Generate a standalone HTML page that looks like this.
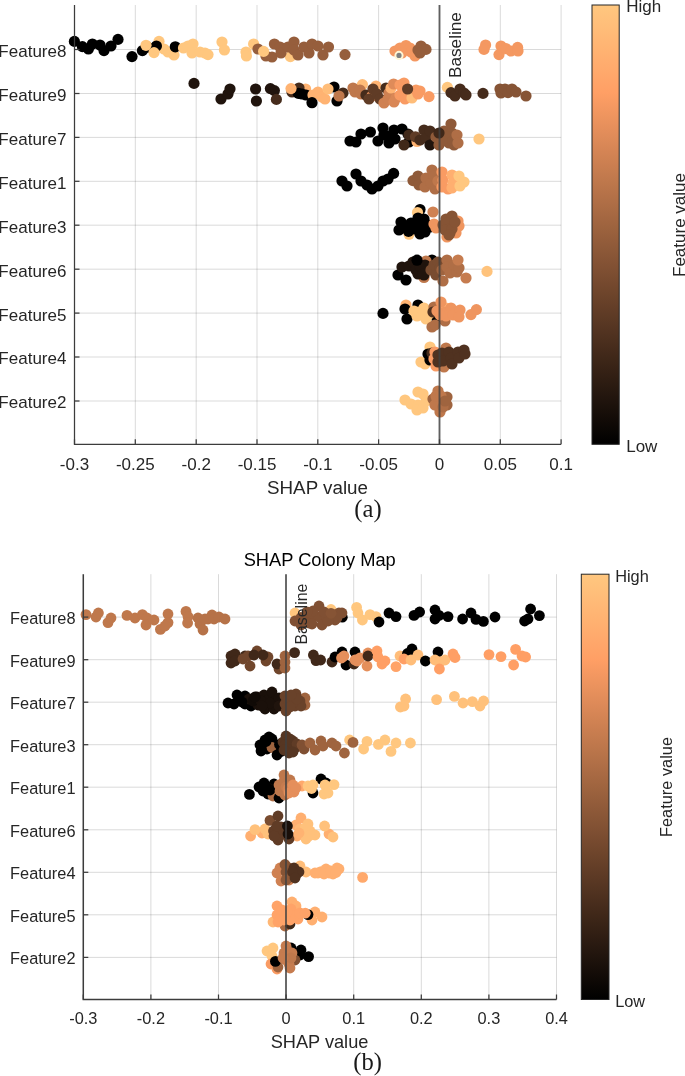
<!DOCTYPE html>
<html><head><meta charset="utf-8"><title>SHAP Colony Map</title>
<style>html,body{margin:0;padding:0;background:#fff}svg{display:block}text{font-family:"Liberation Sans",Arial,sans-serif;fill:#262626}.s{font-family:"Liberation Serif","Times New Roman",serif;fill:#1a1a1a}.g{stroke:#262626;stroke-opacity:.17;stroke-width:1}.ax{stroke:#3c3c3c;stroke-width:1.25;fill:none}</style></head><body>
<svg width="685" height="1076" viewBox="0 0 685 1076">
<defs><linearGradient id="cu" x1="0" y1="1" x2="0" y2="0">
<stop offset="0" stop-color="#000000"/>
<stop offset="0.05" stop-color="#100a06"/>
<stop offset="0.1" stop-color="#20140d"/>
<stop offset="0.15" stop-color="#301e13"/>
<stop offset="0.2" stop-color="#402819"/>
<stop offset="0.25" stop-color="#503220"/>
<stop offset="0.3" stop-color="#603c26"/>
<stop offset="0.35" stop-color="#70462c"/>
<stop offset="0.4" stop-color="#805033"/>
<stop offset="0.45" stop-color="#8f5a39"/>
<stop offset="0.5" stop-color="#9f643f"/>
<stop offset="0.55" stop-color="#af6e46"/>
<stop offset="0.6" stop-color="#bf784c"/>
<stop offset="0.65" stop-color="#cf8152"/>
<stop offset="0.7" stop-color="#df8b59"/>
<stop offset="0.75" stop-color="#ef955f"/>
<stop offset="0.8" stop-color="#ff9f65"/>
<stop offset="0.85" stop-color="#ffa96c"/>
<stop offset="0.9" stop-color="#ffb372"/>
<stop offset="0.95" stop-color="#ffbd79"/>
<stop offset="1" stop-color="#ffc77f"/>
</linearGradient></defs>
<rect width="685" height="1076" fill="#fff"/>
<line class="g" x1="74.5" y1="5.0" x2="74.5" y2="444.3"/>
<line class="g" x1="135.3" y1="5.0" x2="135.3" y2="444.3"/>
<line class="g" x1="196.2" y1="5.0" x2="196.2" y2="444.3"/>
<line class="g" x1="257.0" y1="5.0" x2="257.0" y2="444.3"/>
<line class="g" x1="317.8" y1="5.0" x2="317.8" y2="444.3"/>
<line class="g" x1="378.6" y1="5.0" x2="378.6" y2="444.3"/>
<line class="g" x1="439.5" y1="5.0" x2="439.5" y2="444.3"/>
<line class="g" x1="500.3" y1="5.0" x2="500.3" y2="444.3"/>
<line class="g" x1="561.1" y1="5.0" x2="561.1" y2="444.3"/>
<line class="g" x1="74.5" y1="49.5" x2="561.1" y2="49.5"/>
<line class="g" x1="74.5" y1="93.5" x2="561.1" y2="93.5"/>
<line class="g" x1="74.5" y1="137.4" x2="561.1" y2="137.4"/>
<line class="g" x1="74.5" y1="181.3" x2="561.1" y2="181.3"/>
<line class="g" x1="74.5" y1="225.2" x2="561.1" y2="225.2"/>
<line class="g" x1="74.5" y1="269.2" x2="561.1" y2="269.2"/>
<line class="g" x1="74.5" y1="313.1" x2="561.1" y2="313.1"/>
<line class="g" x1="74.5" y1="357.0" x2="561.1" y2="357.0"/>
<line class="g" x1="74.5" y1="401.0" x2="561.1" y2="401.0"/>
<g>
<circle cx="74.4" cy="41.4" r="5.60" fill="#000000"/>
<circle cx="82.4" cy="46.6" r="5.60" fill="#000000"/>
<circle cx="88.4" cy="49.0" r="5.60" fill="#000000"/>
<circle cx="92.4" cy="44.0" r="5.60" fill="#000000"/>
<circle cx="100.0" cy="45.0" r="5.60" fill="#000000"/>
<circle cx="104.0" cy="50.6" r="5.60" fill="#000000"/>
<circle cx="111.0" cy="46.0" r="5.60" fill="#000000"/>
<circle cx="118.0" cy="39.4" r="5.60" fill="#000000"/>
<circle cx="132.0" cy="56.6" r="5.60" fill="#000000"/>
<circle cx="142.4" cy="50.6" r="5.60" fill="#000000"/>
<circle cx="159.0" cy="41.4" r="5.60" fill="#ffc77f"/>
<circle cx="164.0" cy="49.0" r="5.60" fill="#ffc77f"/>
<circle cx="168.0" cy="52.0" r="5.60" fill="#ffc77f"/>
<circle cx="174.0" cy="55.0" r="5.60" fill="#ffc77f"/>
<circle cx="147.5" cy="47.2" r="5.60" fill="#000000"/>
<circle cx="156.4" cy="46.0" r="5.60" fill="#000000"/>
<circle cx="175.3" cy="46.8" r="5.60" fill="#000000"/>
<circle cx="154.0" cy="52.6" r="5.60" fill="#ffc77f"/>
<circle cx="183.5" cy="48.0" r="5.60" fill="#ffc77f"/>
<circle cx="188.0" cy="46.0" r="5.60" fill="#ffc77f"/>
<circle cx="193.0" cy="44.0" r="5.60" fill="#ffc77f"/>
<circle cx="192.0" cy="53.0" r="5.60" fill="#ffc77f"/>
<circle cx="200.0" cy="52.0" r="5.60" fill="#ffc77f"/>
<circle cx="205.0" cy="53.0" r="5.60" fill="#ffc77f"/>
<circle cx="208.0" cy="54.6" r="5.60" fill="#ffc77f"/>
<circle cx="146.0" cy="45.3" r="5.60" fill="#ffc77f"/>
<circle cx="222.0" cy="42.0" r="5.60" fill="#ffc77f"/>
<circle cx="224.4" cy="50.0" r="5.60" fill="#ffc77f"/>
<circle cx="246.0" cy="52.0" r="5.60" fill="#ffc77f"/>
<circle cx="246.4" cy="56.0" r="5.60" fill="#ffc77f"/>
<circle cx="253.6" cy="44.0" r="5.60" fill="#ffc77f"/>
<circle cx="258.0" cy="49.0" r="5.60" fill="#965e3c"/>
<circle cx="290.4" cy="56.6" r="5.60" fill="#ffc77f"/>
<circle cx="266.0" cy="56.0" r="5.60" fill="#965e3c"/>
<circle cx="272.0" cy="57.0" r="5.60" fill="#965e3c"/>
<circle cx="274.4" cy="44.0" r="5.60" fill="#965e3c"/>
<circle cx="280.0" cy="47.0" r="5.60" fill="#965e3c"/>
<circle cx="281.0" cy="53.0" r="5.60" fill="#965e3c"/>
<circle cx="288.0" cy="47.0" r="5.60" fill="#965e3c"/>
<circle cx="294.0" cy="42.0" r="5.60" fill="#965e3c"/>
<circle cx="294.0" cy="50.0" r="5.60" fill="#965e3c"/>
<circle cx="298.0" cy="55.0" r="5.60" fill="#965e3c"/>
<circle cx="304.0" cy="47.0" r="5.60" fill="#965e3c"/>
<circle cx="309.0" cy="53.0" r="5.60" fill="#965e3c"/>
<circle cx="312.0" cy="44.0" r="5.60" fill="#965e3c"/>
<circle cx="318.0" cy="46.0" r="5.60" fill="#965e3c"/>
<circle cx="323.0" cy="55.0" r="5.60" fill="#965e3c"/>
<circle cx="328.5" cy="47.0" r="5.60" fill="#965e3c"/>
<circle cx="263.6" cy="51.4" r="5.60" fill="#ffc77f"/>
<circle cx="345.0" cy="54.6" r="5.60" fill="#965e3c"/>
<circle cx="395.0" cy="51.0" r="5.60" fill="#f49861"/>
<circle cx="400.0" cy="48.0" r="5.60" fill="#f49861"/>
<circle cx="406.0" cy="45.5" r="5.60" fill="#f49861"/>
<circle cx="410.0" cy="48.0" r="5.60" fill="#f49861"/>
<circle cx="415.0" cy="56.0" r="5.60" fill="#f49861"/>
<circle cx="411.0" cy="52.0" r="5.60" fill="#f49861"/>
<circle cx="402.0" cy="53.0" r="5.60" fill="#f49861"/>
<circle cx="399.0" cy="55.4" r="3.60" fill="#808080" stroke="#fff6d5" stroke-width="2.0"/>
<circle cx="418.0" cy="50.0" r="5.60" fill="#965e3c"/>
<circle cx="421.0" cy="46.0" r="5.60" fill="#965e3c"/>
<circle cx="426.0" cy="49.4" r="5.60" fill="#965e3c"/>
<circle cx="420.0" cy="53.0" r="5.60" fill="#965e3c"/>
<circle cx="485.6" cy="45.0" r="5.60" fill="#f49861"/>
<circle cx="484.0" cy="49.4" r="5.60" fill="#f49861"/>
<circle cx="501.0" cy="46.0" r="5.60" fill="#f49861"/>
<circle cx="499.0" cy="54.6" r="5.60" fill="#f49861"/>
<circle cx="506.0" cy="48.6" r="5.60" fill="#f49861"/>
<circle cx="511.0" cy="51.0" r="5.60" fill="#f49861"/>
<circle cx="517.6" cy="47.4" r="5.60" fill="#f49861"/>
<circle cx="518.0" cy="51.0" r="5.60" fill="#f49861"/>
<circle cx="194.0" cy="83.4" r="5.60" fill="#20140d"/>
<circle cx="221.0" cy="99.0" r="5.60" fill="#20140d"/>
<circle cx="228.0" cy="94.0" r="5.60" fill="#20140d"/>
<circle cx="230.0" cy="89.0" r="5.60" fill="#20140d"/>
<circle cx="255.6" cy="89.0" r="5.60" fill="#20140d"/>
<circle cx="256.4" cy="101.0" r="5.60" fill="#20140d"/>
<circle cx="270.4" cy="88.6" r="5.60" fill="#20140d"/>
<circle cx="274.4" cy="90.6" r="5.60" fill="#20140d"/>
<circle cx="276.4" cy="99.4" r="5.60" fill="#462c1c"/>
<circle cx="305.6" cy="89.0" r="5.60" fill="#ffb372"/>
<circle cx="292.0" cy="92.0" r="5.60" fill="#462c1c"/>
<circle cx="299.0" cy="88.0" r="5.60" fill="#462c1c"/>
<circle cx="298.4" cy="93.4" r="5.60" fill="#000000"/>
<circle cx="291.0" cy="88.6" r="5.60" fill="#ffb372"/>
<circle cx="302.0" cy="94.0" r="5.60" fill="#000000"/>
<circle cx="306.0" cy="95.0" r="5.60" fill="#000000"/>
<circle cx="313.0" cy="95.0" r="5.60" fill="#ffb372"/>
<circle cx="318.0" cy="92.0" r="5.60" fill="#ffb372"/>
<circle cx="322.0" cy="97.0" r="5.60" fill="#ffb372"/>
<circle cx="325.0" cy="99.0" r="5.60" fill="#ffb372"/>
<circle cx="312.0" cy="102.7" r="5.60" fill="#000000"/>
<circle cx="334.0" cy="87.0" r="5.60" fill="#000000"/>
<circle cx="328.0" cy="89.0" r="5.60" fill="#ffbd79"/>
<circle cx="337.0" cy="101.0" r="5.60" fill="#000000"/>
<circle cx="343.0" cy="93.0" r="5.60" fill="#462c1c"/>
<circle cx="339.0" cy="96.0" r="5.60" fill="#bf784c"/>
<circle cx="362.4" cy="84.6" r="5.60" fill="#ffbd79"/>
<circle cx="353.0" cy="88.0" r="5.60" fill="#bf784c"/>
<circle cx="355.0" cy="92.0" r="5.60" fill="#bf784c"/>
<circle cx="360.0" cy="90.0" r="5.60" fill="#bf784c"/>
<circle cx="361.0" cy="94.0" r="5.60" fill="#bf784c"/>
<circle cx="366.0" cy="95.0" r="5.60" fill="#462c1c"/>
<circle cx="376.0" cy="86.0" r="5.60" fill="#ffb372"/>
<circle cx="372.0" cy="96.0" r="5.60" fill="#f49861"/>
<circle cx="369.0" cy="99.0" r="5.60" fill="#603c26"/>
<circle cx="373.0" cy="89.0" r="5.60" fill="#603c26"/>
<circle cx="377.0" cy="94.0" r="5.60" fill="#603c26"/>
<circle cx="380.0" cy="99.0" r="5.60" fill="#603c26"/>
<circle cx="386.0" cy="88.0" r="5.60" fill="#462c1c"/>
<circle cx="384.0" cy="103.0" r="5.60" fill="#cf8152"/>
<circle cx="388.0" cy="99.0" r="5.60" fill="#cf8152"/>
<circle cx="389.0" cy="93.0" r="5.60" fill="#cf8152"/>
<circle cx="391.0" cy="88.0" r="5.60" fill="#ffb372"/>
<circle cx="393.6" cy="84.0" r="5.60" fill="#df8b59"/>
<circle cx="396.0" cy="98.0" r="5.60" fill="#d98756"/>
<circle cx="394.0" cy="102.0" r="5.60" fill="#d98756"/>
<circle cx="400.0" cy="85.0" r="5.60" fill="#f99b63"/>
<circle cx="404.0" cy="83.0" r="5.60" fill="#f99b63"/>
<circle cx="400.0" cy="95.0" r="5.60" fill="#f99b63"/>
<circle cx="405.0" cy="99.0" r="5.60" fill="#f99b63"/>
<circle cx="412.0" cy="98.0" r="5.60" fill="#ffbd79"/>
<circle cx="416.0" cy="90.0" r="5.60" fill="#f99b63"/>
<circle cx="420.0" cy="91.0" r="5.60" fill="#f99b63"/>
<circle cx="418.0" cy="94.0" r="5.60" fill="#f99b63"/>
<circle cx="407.6" cy="89.0" r="5.60" fill="#603c26"/>
<circle cx="429.0" cy="96.6" r="5.60" fill="#f99b63"/>
<circle cx="447.4" cy="87.4" r="5.60" fill="#ffc77f"/>
<circle cx="451.0" cy="92.6" r="5.60" fill="#462c1c"/>
<circle cx="455.0" cy="96.0" r="5.60" fill="#462c1c"/>
<circle cx="460.0" cy="89.0" r="5.60" fill="#462c1c"/>
<circle cx="464.0" cy="93.0" r="5.60" fill="#462c1c"/>
<circle cx="466.0" cy="95.0" r="5.60" fill="#462c1c"/>
<circle cx="483.0" cy="93.4" r="5.60" fill="#462c1c"/>
<circle cx="500.0" cy="89.0" r="5.60" fill="#865435"/>
<circle cx="501.0" cy="93.0" r="5.60" fill="#865435"/>
<circle cx="505.0" cy="89.0" r="5.60" fill="#865435"/>
<circle cx="508.0" cy="92.6" r="5.60" fill="#865435"/>
<circle cx="512.0" cy="89.0" r="5.60" fill="#865435"/>
<circle cx="516.0" cy="92.0" r="5.60" fill="#865435"/>
<circle cx="526.0" cy="96.0" r="5.60" fill="#865435"/>
<circle cx="350.0" cy="141.0" r="5.60" fill="#000000"/>
<circle cx="356.0" cy="142.0" r="5.60" fill="#000000"/>
<circle cx="361.0" cy="134.0" r="5.60" fill="#000000"/>
<circle cx="370.4" cy="132.0" r="5.60" fill="#000000"/>
<circle cx="378.0" cy="141.0" r="5.60" fill="#000000"/>
<circle cx="383.0" cy="128.0" r="5.60" fill="#000000"/>
<circle cx="384.0" cy="135.0" r="5.60" fill="#000000"/>
<circle cx="389.0" cy="143.0" r="5.60" fill="#000000"/>
<circle cx="394.0" cy="130.0" r="5.60" fill="#000000"/>
<circle cx="395.0" cy="139.0" r="5.60" fill="#000000"/>
<circle cx="402.0" cy="129.0" r="5.60" fill="#000000"/>
<circle cx="408.0" cy="134.0" r="5.60" fill="#000000"/>
<circle cx="409.0" cy="142.0" r="5.60" fill="#000000"/>
<circle cx="417.0" cy="141.5" r="5.60" fill="#ffb372"/>
<circle cx="409.0" cy="135.0" r="5.60" fill="#402819"/>
<circle cx="404.0" cy="145.0" r="5.60" fill="#402819"/>
<circle cx="415.5" cy="136.8" r="5.60" fill="#603c26"/>
<circle cx="420.0" cy="140.0" r="5.60" fill="#462c1c"/>
<circle cx="389.0" cy="136.0" r="5.60" fill="#000000"/>
<circle cx="424.0" cy="130.0" r="5.60" fill="#462c1c"/>
<circle cx="426.0" cy="138.0" r="5.60" fill="#462c1c"/>
<circle cx="430.0" cy="131.0" r="5.60" fill="#462c1c"/>
<circle cx="430.0" cy="145.0" r="5.60" fill="#20140d"/>
<circle cx="436.0" cy="137.0" r="5.60" fill="#8f5a39"/>
<circle cx="439.0" cy="145.0" r="5.60" fill="#8f5a39"/>
<circle cx="444.0" cy="131.0" r="5.60" fill="#8f5a39"/>
<circle cx="446.0" cy="139.0" r="5.60" fill="#8f5a39"/>
<circle cx="451.0" cy="124.0" r="5.60" fill="#8f5a39"/>
<circle cx="452.0" cy="133.0" r="5.60" fill="#8f5a39"/>
<circle cx="454.0" cy="145.0" r="5.60" fill="#8f5a39"/>
<circle cx="448.0" cy="137.0" r="5.60" fill="#8f5a39"/>
<circle cx="455.0" cy="139.0" r="5.60" fill="#8f5a39"/>
<circle cx="449.0" cy="143.0" r="5.60" fill="#8f5a39"/>
<circle cx="442.0" cy="141.0" r="5.60" fill="#8f5a39"/>
<circle cx="457.0" cy="135.0" r="5.60" fill="#af6e46"/>
<circle cx="458.0" cy="143.0" r="5.60" fill="#af6e46"/>
<circle cx="439.0" cy="133.0" r="5.60" fill="#402819"/>
<circle cx="479.0" cy="139.0" r="5.60" fill="#ffc77f"/>
<circle cx="342.0" cy="181.0" r="5.60" fill="#000000"/>
<circle cx="347.0" cy="186.0" r="5.60" fill="#000000"/>
<circle cx="356.0" cy="174.0" r="5.60" fill="#000000"/>
<circle cx="361.0" cy="181.0" r="5.60" fill="#000000"/>
<circle cx="367.0" cy="185.0" r="5.60" fill="#000000"/>
<circle cx="372.0" cy="189.0" r="5.60" fill="#000000"/>
<circle cx="378.0" cy="186.0" r="5.60" fill="#000000"/>
<circle cx="383.0" cy="181.0" r="5.60" fill="#000000"/>
<circle cx="388.0" cy="179.0" r="5.60" fill="#000000"/>
<circle cx="393.6" cy="173.4" r="5.60" fill="#000000"/>
<circle cx="413.0" cy="180.6" r="5.60" fill="#8f5a39"/>
<circle cx="418.0" cy="176.0" r="5.60" fill="#8f5a39"/>
<circle cx="419.0" cy="185.0" r="5.60" fill="#8f5a39"/>
<circle cx="426.0" cy="178.0" r="5.60" fill="#af6e46"/>
<circle cx="425.0" cy="187.0" r="5.60" fill="#af6e46"/>
<circle cx="432.0" cy="170.0" r="5.60" fill="#af6e46"/>
<circle cx="431.0" cy="183.0" r="5.60" fill="#af6e46"/>
<circle cx="435.0" cy="189.0" r="5.60" fill="#af6e46"/>
<circle cx="434.0" cy="176.0" r="5.60" fill="#af6e46"/>
<circle cx="438.0" cy="181.0" r="5.60" fill="#bf784c"/>
<circle cx="442.0" cy="172.0" r="5.60" fill="#f99b63"/>
<circle cx="443.0" cy="180.0" r="5.60" fill="#f99b63"/>
<circle cx="442.0" cy="187.0" r="5.60" fill="#f99b63"/>
<circle cx="448.0" cy="189.0" r="5.60" fill="#f99b63"/>
<circle cx="452.0" cy="175.0" r="5.60" fill="#ffaf70"/>
<circle cx="453.0" cy="183.0" r="5.60" fill="#ffaf70"/>
<circle cx="452.0" cy="188.0" r="5.60" fill="#ffaf70"/>
<circle cx="459.0" cy="176.0" r="5.60" fill="#ffc77f"/>
<circle cx="460.0" cy="186.0" r="5.60" fill="#ffc77f"/>
<circle cx="464.0" cy="182.0" r="5.60" fill="#ffc77f"/>
<circle cx="420.0" cy="209.5" r="5.60" fill="#000000"/>
<circle cx="417.5" cy="212.5" r="5.60" fill="#ffc77f"/>
<circle cx="409.0" cy="234.2" r="5.60" fill="#ffc77f"/>
<circle cx="408.5" cy="231.3" r="5.60" fill="#000000"/>
<circle cx="404.0" cy="226.0" r="5.60" fill="#000000"/>
<circle cx="413.0" cy="229.0" r="5.60" fill="#000000"/>
<circle cx="422.0" cy="229.0" r="5.60" fill="#000000"/>
<circle cx="418.0" cy="218.0" r="5.60" fill="#000000"/>
<circle cx="401.0" cy="222.0" r="5.60" fill="#000000"/>
<circle cx="399.0" cy="230.0" r="5.60" fill="#000000"/>
<circle cx="407.0" cy="229.0" r="5.60" fill="#000000"/>
<circle cx="411.0" cy="223.0" r="5.60" fill="#000000"/>
<circle cx="418.0" cy="227.0" r="5.60" fill="#000000"/>
<circle cx="420.0" cy="234.0" r="5.60" fill="#000000"/>
<circle cx="425.0" cy="232.0" r="5.60" fill="#000000"/>
<circle cx="426.0" cy="224.0" r="5.60" fill="#000000"/>
<circle cx="424.0" cy="219.0" r="5.60" fill="#000000"/>
<circle cx="430.0" cy="227.0" r="5.60" fill="#000000"/>
<circle cx="433.0" cy="212.0" r="5.60" fill="#cf8152"/>
<circle cx="434.0" cy="224.0" r="5.60" fill="#ef955f"/>
<circle cx="436.0" cy="228.0" r="5.60" fill="#ef955f"/>
<circle cx="458.0" cy="221.0" r="5.60" fill="#ef955f"/>
<circle cx="459.0" cy="226.0" r="5.60" fill="#ef955f"/>
<circle cx="456.0" cy="233.0" r="5.60" fill="#ef955f"/>
<circle cx="447.0" cy="237.0" r="5.60" fill="#ef955f"/>
<circle cx="446.0" cy="219.0" r="5.60" fill="#865435"/>
<circle cx="448.0" cy="227.0" r="5.60" fill="#865435"/>
<circle cx="452.0" cy="216.0" r="5.60" fill="#865435"/>
<circle cx="453.0" cy="223.0" r="5.60" fill="#865435"/>
<circle cx="450.0" cy="233.0" r="5.60" fill="#865435"/>
<circle cx="443.0" cy="225.0" r="5.60" fill="#865435"/>
<circle cx="447.0" cy="223.0" r="5.60" fill="#865435"/>
<circle cx="449.0" cy="229.0" r="5.60" fill="#865435"/>
<circle cx="445.0" cy="230.0" r="5.60" fill="#865435"/>
<circle cx="452.0" cy="229.0" r="5.60" fill="#865435"/>
<circle cx="455.0" cy="222.0" r="5.60" fill="#865435"/>
<circle cx="449.0" cy="235.0" r="5.60" fill="#865435"/>
<circle cx="398.0" cy="275.0" r="5.60" fill="#000000"/>
<circle cx="406.0" cy="280.0" r="5.60" fill="#000000"/>
<circle cx="432.0" cy="260.0" r="5.60" fill="#000000"/>
<circle cx="426.0" cy="261.0" r="5.60" fill="#bf784c"/>
<circle cx="424.0" cy="277.5" r="5.60" fill="#bf784c"/>
<circle cx="402.0" cy="267.0" r="5.60" fill="#20140d"/>
<circle cx="409.0" cy="266.0" r="5.60" fill="#20140d"/>
<circle cx="413.0" cy="262.0" r="5.60" fill="#20140d"/>
<circle cx="416.0" cy="270.0" r="5.60" fill="#20140d"/>
<circle cx="418.0" cy="274.0" r="5.60" fill="#20140d"/>
<circle cx="423.0" cy="269.0" r="5.60" fill="#20140d"/>
<circle cx="424.0" cy="275.0" r="5.60" fill="#20140d"/>
<circle cx="425.0" cy="265.0" r="5.60" fill="#20140d"/>
<circle cx="420.0" cy="266.0" r="5.60" fill="#20140d"/>
<circle cx="423.0" cy="274.0" r="5.60" fill="#20140d"/>
<circle cx="417.0" cy="260.2" r="5.60" fill="#000000"/>
<circle cx="431.0" cy="270.0" r="5.60" fill="#794c30"/>
<circle cx="434.0" cy="265.0" r="5.60" fill="#794c30"/>
<circle cx="436.0" cy="275.0" r="5.60" fill="#794c30"/>
<circle cx="438.0" cy="262.0" r="5.60" fill="#794c30"/>
<circle cx="440.0" cy="268.0" r="5.60" fill="#794c30"/>
<circle cx="442.0" cy="270.0" r="5.60" fill="#9f643f"/>
<circle cx="443.0" cy="281.0" r="5.60" fill="#af6e46"/>
<circle cx="447.0" cy="260.0" r="5.60" fill="#af6e46"/>
<circle cx="447.0" cy="267.0" r="5.60" fill="#af6e46"/>
<circle cx="450.0" cy="273.0" r="5.60" fill="#af6e46"/>
<circle cx="454.0" cy="265.0" r="5.60" fill="#af6e46"/>
<circle cx="457.0" cy="272.0" r="5.60" fill="#af6e46"/>
<circle cx="459.0" cy="268.0" r="5.60" fill="#af6e46"/>
<circle cx="458.0" cy="260.0" r="5.60" fill="#c67c4f"/>
<circle cx="466.0" cy="278.0" r="5.60" fill="#c67c4f"/>
<circle cx="487.0" cy="271.4" r="5.60" fill="#ffc37c"/>
<circle cx="383.0" cy="313.4" r="5.60" fill="#000000"/>
<circle cx="406.0" cy="305.0" r="5.60" fill="#ffb372"/>
<circle cx="405.0" cy="309.0" r="5.60" fill="#000000"/>
<circle cx="407.0" cy="319.0" r="5.60" fill="#000000"/>
<circle cx="418.0" cy="305.0" r="5.60" fill="#000000"/>
<circle cx="437.0" cy="319.0" r="5.60" fill="#000000"/>
<circle cx="443.0" cy="319.0" r="5.60" fill="#000000"/>
<circle cx="414.0" cy="311.0" r="5.60" fill="#ffc77f"/>
<circle cx="417.0" cy="316.0" r="5.60" fill="#ffc77f"/>
<circle cx="424.0" cy="308.0" r="5.60" fill="#ffc77f"/>
<circle cx="426.0" cy="319.0" r="5.60" fill="#ffc77f"/>
<circle cx="429.0" cy="314.0" r="5.60" fill="#ffc77f"/>
<circle cx="419.0" cy="312.0" r="5.60" fill="#ffc77f"/>
<circle cx="422.0" cy="315.0" r="5.60" fill="#ffc77f"/>
<circle cx="427.0" cy="311.0" r="5.60" fill="#ffc77f"/>
<circle cx="434.0" cy="307.0" r="5.60" fill="#af6e46"/>
<circle cx="432.0" cy="327.0" r="5.60" fill="#af6e46"/>
<circle cx="435.0" cy="325.0" r="5.60" fill="#af6e46"/>
<circle cx="445.0" cy="321.0" r="5.60" fill="#af6e46"/>
<circle cx="433.0" cy="312.0" r="5.60" fill="#503220"/>
<circle cx="446.0" cy="308.0" r="5.60" fill="#ffb372"/>
<circle cx="445.0" cy="312.0" r="5.60" fill="#ef955f"/>
<circle cx="446.0" cy="316.0" r="5.60" fill="#ef955f"/>
<circle cx="437.0" cy="311.0" r="5.60" fill="#ef955f"/>
<circle cx="441.0" cy="302.0" r="5.60" fill="#ef955f"/>
<circle cx="440.0" cy="315.0" r="5.60" fill="#ef955f"/>
<circle cx="451.0" cy="308.0" r="5.60" fill="#ef955f"/>
<circle cx="453.0" cy="315.0" r="5.60" fill="#ef955f"/>
<circle cx="460.0" cy="310.0" r="5.60" fill="#ef955f"/>
<circle cx="459.0" cy="317.0" r="5.60" fill="#ef955f"/>
<circle cx="471.0" cy="314.6" r="5.60" fill="#ef955f"/>
<circle cx="476.4" cy="309.6" r="5.60" fill="#ef955f"/>
<circle cx="430.0" cy="347.0" r="5.60" fill="#ffc77f"/>
<circle cx="421.0" cy="362.0" r="5.60" fill="#ffc77f"/>
<circle cx="425.0" cy="364.0" r="5.60" fill="#ffc77f"/>
<circle cx="428.0" cy="354.0" r="5.60" fill="#000000"/>
<circle cx="430.0" cy="360.0" r="5.60" fill="#000000"/>
<circle cx="432.0" cy="353.0" r="5.60" fill="#462c1c"/>
<circle cx="435.0" cy="352.0" r="5.60" fill="#f99b63"/>
<circle cx="434.0" cy="359.0" r="5.60" fill="#f99b63"/>
<circle cx="436.0" cy="366.0" r="5.60" fill="#f99b63"/>
<circle cx="446.0" cy="348.0" r="5.60" fill="#bf784c"/>
<circle cx="444.0" cy="367.0" r="5.60" fill="#bf784c"/>
<circle cx="438.0" cy="355.0" r="5.60" fill="#503220"/>
<circle cx="438.0" cy="362.0" r="5.60" fill="#503220"/>
<circle cx="442.0" cy="353.0" r="5.60" fill="#503220"/>
<circle cx="443.0" cy="361.0" r="5.60" fill="#503220"/>
<circle cx="449.0" cy="352.0" r="5.60" fill="#503220"/>
<circle cx="451.0" cy="358.0" r="5.60" fill="#503220"/>
<circle cx="452.0" cy="364.0" r="5.60" fill="#503220"/>
<circle cx="458.0" cy="352.0" r="5.60" fill="#503220"/>
<circle cx="459.0" cy="358.0" r="5.60" fill="#503220"/>
<circle cx="464.0" cy="350.0" r="5.60" fill="#503220"/>
<circle cx="465.0" cy="354.0" r="5.60" fill="#503220"/>
<circle cx="405.0" cy="400.0" r="5.60" fill="#ffc77f"/>
<circle cx="411.0" cy="404.0" r="5.60" fill="#ffc77f"/>
<circle cx="418.0" cy="392.0" r="5.60" fill="#ffc77f"/>
<circle cx="423.0" cy="394.0" r="5.60" fill="#ffc77f"/>
<circle cx="418.0" cy="405.0" r="5.60" fill="#ffc77f"/>
<circle cx="417.0" cy="410.0" r="5.60" fill="#ffc77f"/>
<circle cx="423.0" cy="408.0" r="5.60" fill="#ffc77f"/>
<circle cx="426.0" cy="401.0" r="5.60" fill="#ffc77f"/>
<circle cx="447.0" cy="397.0" r="5.60" fill="#9f643f"/>
<circle cx="447.0" cy="405.0" r="5.60" fill="#9f643f"/>
<circle cx="433.0" cy="399.0" r="5.60" fill="#9f643f"/>
<circle cx="438.0" cy="391.0" r="5.60" fill="#bf784c"/>
<circle cx="437.0" cy="399.0" r="5.60" fill="#bf784c"/>
<circle cx="439.0" cy="407.0" r="5.60" fill="#bf784c"/>
<circle cx="440.0" cy="412.0" r="5.60" fill="#bf784c"/>
<circle cx="442.0" cy="401.0" r="5.60" fill="#bf784c"/>
<circle cx="435.0" cy="405.0" r="5.60" fill="#bf784c"/>
<circle cx="436.0" cy="396.0" r="5.60" fill="#bf784c"/>
<circle cx="441.0" cy="396.0" r="5.60" fill="#bf784c"/>
<circle cx="443.0" cy="407.0" r="5.60" fill="#af6e46"/>
<circle cx="445.0" cy="401.0" r="5.60" fill="#9f643f"/>
</g>
<line x1="439.5" y1="5.0" x2="439.5" y2="444.3" stroke="#404040" stroke-opacity=".8" stroke-width="1.9"/>
<text transform="translate(461.0 78.0) rotate(-90)" font-size="17.2">Baseline</text>
<path class="ax" d="M74.5 5.0V444.3H561.1" style="stroke-width:1.25"/>
<line class="ax" x1="74.5" y1="444.3" x2="74.5" y2="439.3"/>
<text x="74.5" y="470.1" font-size="17" text-anchor="middle">-0.3</text>
<line class="ax" x1="135.3" y1="444.3" x2="135.3" y2="439.3"/>
<text x="135.3" y="470.1" font-size="17" text-anchor="middle">-0.25</text>
<line class="ax" x1="196.2" y1="444.3" x2="196.2" y2="439.3"/>
<text x="196.2" y="470.1" font-size="17" text-anchor="middle">-0.2</text>
<line class="ax" x1="257.0" y1="444.3" x2="257.0" y2="439.3"/>
<text x="257.0" y="470.1" font-size="17" text-anchor="middle">-0.15</text>
<line class="ax" x1="317.8" y1="444.3" x2="317.8" y2="439.3"/>
<text x="317.8" y="470.1" font-size="17" text-anchor="middle">-0.1</text>
<line class="ax" x1="378.6" y1="444.3" x2="378.6" y2="439.3"/>
<text x="378.6" y="470.1" font-size="17" text-anchor="middle">-0.05</text>
<line class="ax" x1="439.5" y1="444.3" x2="439.5" y2="439.3"/>
<text x="439.5" y="470.1" font-size="17" text-anchor="middle">0</text>
<line class="ax" x1="500.3" y1="444.3" x2="500.3" y2="439.3"/>
<text x="500.3" y="470.1" font-size="17" text-anchor="middle">0.05</text>
<line class="ax" x1="561.1" y1="444.3" x2="561.1" y2="439.3"/>
<text x="561.1" y="470.1" font-size="17" text-anchor="middle">0.1</text>
<line class="ax" x1="74.5" y1="49.5" x2="79.5" y2="49.5"/>
<text x="66.4" y="56.9" font-size="17" text-anchor="end">Feature8</text>
<line class="ax" x1="74.5" y1="93.5" x2="79.5" y2="93.5"/>
<text x="66.4" y="100.9" font-size="17" text-anchor="end">Feature9</text>
<line class="ax" x1="74.5" y1="137.4" x2="79.5" y2="137.4"/>
<text x="66.4" y="144.8" font-size="17" text-anchor="end">Feature7</text>
<line class="ax" x1="74.5" y1="181.3" x2="79.5" y2="181.3"/>
<text x="66.4" y="188.7" font-size="17" text-anchor="end">Feature1</text>
<line class="ax" x1="74.5" y1="225.2" x2="79.5" y2="225.2"/>
<text x="66.4" y="232.7" font-size="17" text-anchor="end">Feature3</text>
<line class="ax" x1="74.5" y1="269.2" x2="79.5" y2="269.2"/>
<text x="66.4" y="276.6" font-size="17" text-anchor="end">Feature6</text>
<line class="ax" x1="74.5" y1="313.1" x2="79.5" y2="313.1"/>
<text x="66.4" y="320.5" font-size="17" text-anchor="end">Feature5</text>
<line class="ax" x1="74.5" y1="357.0" x2="79.5" y2="357.0"/>
<text x="66.4" y="364.4" font-size="17" text-anchor="end">Feature4</text>
<line class="ax" x1="74.5" y1="401.0" x2="79.5" y2="401.0"/>
<text x="66.4" y="408.4" font-size="17" text-anchor="end">Feature2</text>
<text x="317.5" y="494.0" font-size="18.8" text-anchor="middle">SHAP value</text>
<text class="s" x="368.0" y="517.4" font-size="24.6" text-anchor="middle">(a)</text>
<rect x="592.0" y="5.0" width="27.2" height="439.3" fill="url(#cu)" stroke="#262626" stroke-width="1"/>
<text x="626.2" y="12.1" font-size="17">High</text>
<text x="626.2" y="451.9" font-size="17">Low</text>
<text transform="translate(684.8 225.0) rotate(-90)" font-size="17" text-anchor="middle">Feature value</text>
<line class="g" x1="83.3" y1="574.2" x2="83.3" y2="999.5"/>
<line class="g" x1="150.9" y1="574.2" x2="150.9" y2="999.5"/>
<line class="g" x1="218.5" y1="574.2" x2="218.5" y2="999.5"/>
<line class="g" x1="286.1" y1="574.2" x2="286.1" y2="999.5"/>
<line class="g" x1="353.7" y1="574.2" x2="353.7" y2="999.5"/>
<line class="g" x1="421.3" y1="574.2" x2="421.3" y2="999.5"/>
<line class="g" x1="488.9" y1="574.2" x2="488.9" y2="999.5"/>
<line class="g" x1="556.5" y1="574.2" x2="556.5" y2="999.5"/>
<line class="g" x1="83.3" y1="617.1" x2="556.5" y2="617.1"/>
<line class="g" x1="83.3" y1="659.7" x2="556.5" y2="659.7"/>
<line class="g" x1="83.3" y1="702.2" x2="556.5" y2="702.2"/>
<line class="g" x1="83.3" y1="744.7" x2="556.5" y2="744.7"/>
<line class="g" x1="83.3" y1="787.2" x2="556.5" y2="787.2"/>
<line class="g" x1="83.3" y1="829.8" x2="556.5" y2="829.8"/>
<line class="g" x1="83.3" y1="872.3" x2="556.5" y2="872.3"/>
<line class="g" x1="83.3" y1="914.8" x2="556.5" y2="914.8"/>
<line class="g" x1="83.3" y1="957.4" x2="556.5" y2="957.4"/>
<g>
<circle cx="86.0" cy="614.6" r="5.40" fill="#bf784c"/>
<circle cx="96.0" cy="617.0" r="5.40" fill="#bf784c"/>
<circle cx="98.4" cy="613.0" r="5.40" fill="#bf784c"/>
<circle cx="108.0" cy="622.6" r="5.40" fill="#bf784c"/>
<circle cx="111.0" cy="618.0" r="5.40" fill="#bf784c"/>
<circle cx="127.0" cy="615.4" r="5.40" fill="#bf784c"/>
<circle cx="135.0" cy="618.0" r="5.40" fill="#bf784c"/>
<circle cx="142.4" cy="614.6" r="5.40" fill="#bf784c"/>
<circle cx="147.0" cy="618.0" r="5.40" fill="#bf784c"/>
<circle cx="146.0" cy="625.0" r="5.40" fill="#bf784c"/>
<circle cx="154.0" cy="620.0" r="5.40" fill="#bf784c"/>
<circle cx="160.4" cy="629.4" r="5.40" fill="#bf784c"/>
<circle cx="168.0" cy="614.0" r="5.40" fill="#bf784c"/>
<circle cx="168.0" cy="622.6" r="5.40" fill="#bf784c"/>
<circle cx="165.0" cy="626.0" r="5.40" fill="#bf784c"/>
<circle cx="186.0" cy="611.4" r="5.40" fill="#bf784c"/>
<circle cx="188.0" cy="616.6" r="5.40" fill="#bf784c"/>
<circle cx="187.6" cy="623.0" r="5.40" fill="#bf784c"/>
<circle cx="198.0" cy="618.0" r="5.40" fill="#b67248"/>
<circle cx="200.0" cy="624.0" r="5.40" fill="#b67248"/>
<circle cx="203.0" cy="630.0" r="5.40" fill="#b67248"/>
<circle cx="208.0" cy="619.0" r="5.40" fill="#b67248"/>
<circle cx="212.0" cy="615.0" r="5.40" fill="#b67248"/>
<circle cx="205.0" cy="619.0" r="5.40" fill="#b67248"/>
<circle cx="214.0" cy="619.0" r="5.40" fill="#b67248"/>
<circle cx="219.0" cy="617.0" r="5.40" fill="#b67248"/>
<circle cx="225.0" cy="619.0" r="5.40" fill="#b67248"/>
<circle cx="331.0" cy="609.5" r="5.40" fill="#ffc77f"/>
<circle cx="342.3" cy="617.2" r="5.40" fill="#000000"/>
<circle cx="295.0" cy="613.0" r="5.40" fill="#ffc77f"/>
<circle cx="295.0" cy="621.0" r="5.40" fill="#805033"/>
<circle cx="301.0" cy="617.5" r="5.40" fill="#805033"/>
<circle cx="301.0" cy="625.0" r="5.40" fill="#805033"/>
<circle cx="305.0" cy="617.0" r="5.40" fill="#805033"/>
<circle cx="309.0" cy="623.0" r="5.40" fill="#805033"/>
<circle cx="314.0" cy="615.0" r="5.40" fill="#805033"/>
<circle cx="319.0" cy="606.0" r="5.40" fill="#805033"/>
<circle cx="319.0" cy="617.0" r="5.40" fill="#805033"/>
<circle cx="322.0" cy="625.0" r="5.40" fill="#805033"/>
<circle cx="327.0" cy="618.0" r="5.40" fill="#805033"/>
<circle cx="333.0" cy="615.0" r="5.40" fill="#805033"/>
<circle cx="335.0" cy="620.0" r="5.40" fill="#805033"/>
<circle cx="339.0" cy="613.0" r="5.40" fill="#805033"/>
<circle cx="342.0" cy="613.0" r="5.40" fill="#805033"/>
<circle cx="337.0" cy="618.0" r="5.40" fill="#805033"/>
<circle cx="328.0" cy="621.0" r="5.40" fill="#805033"/>
<circle cx="312.0" cy="624.0" r="5.40" fill="#805033"/>
<circle cx="313.0" cy="611.0" r="5.40" fill="#805033"/>
<circle cx="324.0" cy="612.0" r="5.40" fill="#805033"/>
<circle cx="331.0" cy="613.3" r="5.40" fill="#865435"/>
<circle cx="307.0" cy="612.0" r="5.40" fill="#805033"/>
<circle cx="356.6" cy="607.4" r="5.40" fill="#ffc77f"/>
<circle cx="358.0" cy="613.0" r="5.40" fill="#ffc77f"/>
<circle cx="362.4" cy="620.0" r="5.40" fill="#ffc77f"/>
<circle cx="370.0" cy="614.6" r="5.40" fill="#ffc77f"/>
<circle cx="376.0" cy="616.6" r="5.40" fill="#ffc77f"/>
<circle cx="379.0" cy="622.0" r="5.40" fill="#000000"/>
<circle cx="389.0" cy="613.0" r="5.40" fill="#000000"/>
<circle cx="396.0" cy="616.6" r="5.40" fill="#000000"/>
<circle cx="414.0" cy="615.4" r="5.40" fill="#000000"/>
<circle cx="419.6" cy="612.0" r="5.40" fill="#000000"/>
<circle cx="435.0" cy="610.0" r="5.40" fill="#000000"/>
<circle cx="435.0" cy="619.0" r="5.40" fill="#000000"/>
<circle cx="439.0" cy="615.4" r="5.40" fill="#000000"/>
<circle cx="448.0" cy="616.6" r="5.40" fill="#000000"/>
<circle cx="462.6" cy="619.0" r="5.40" fill="#000000"/>
<circle cx="471.0" cy="613.0" r="5.40" fill="#000000"/>
<circle cx="476.0" cy="619.4" r="5.40" fill="#000000"/>
<circle cx="483.4" cy="621.4" r="5.40" fill="#000000"/>
<circle cx="495.0" cy="617.0" r="5.40" fill="#000000"/>
<circle cx="530.6" cy="609.0" r="5.40" fill="#000000"/>
<circle cx="524.6" cy="621.0" r="5.40" fill="#000000"/>
<circle cx="528.0" cy="619.0" r="5.40" fill="#000000"/>
<circle cx="539.4" cy="615.6" r="5.40" fill="#000000"/>
<circle cx="231.0" cy="656.0" r="5.40" fill="#402819"/>
<circle cx="235.0" cy="654.0" r="5.40" fill="#402819"/>
<circle cx="231.0" cy="663.0" r="5.40" fill="#402819"/>
<circle cx="235.0" cy="661.0" r="5.40" fill="#402819"/>
<circle cx="245.0" cy="656.0" r="5.40" fill="#402819"/>
<circle cx="243.0" cy="659.0" r="5.40" fill="#70462c"/>
<circle cx="248.0" cy="656.0" r="5.40" fill="#70462c"/>
<circle cx="250.0" cy="666.0" r="5.40" fill="#70462c"/>
<circle cx="257.0" cy="651.0" r="5.40" fill="#70462c"/>
<circle cx="266.0" cy="661.0" r="5.40" fill="#70462c"/>
<circle cx="268.0" cy="657.0" r="5.40" fill="#70462c"/>
<circle cx="263.0" cy="655.0" r="5.40" fill="#402819"/>
<circle cx="254.0" cy="655.0" r="5.40" fill="#402819"/>
<circle cx="279.0" cy="669.0" r="5.40" fill="#70462c"/>
<circle cx="277.0" cy="664.0" r="5.40" fill="#402819"/>
<circle cx="285.0" cy="656.0" r="5.40" fill="#9f643f"/>
<circle cx="285.0" cy="662.0" r="5.40" fill="#9f643f"/>
<circle cx="285.0" cy="668.0" r="5.40" fill="#9f643f"/>
<circle cx="294.6" cy="652.6" r="5.40" fill="#402819"/>
<circle cx="313.4" cy="655.0" r="5.40" fill="#402819"/>
<circle cx="316.0" cy="660.6" r="5.40" fill="#402819"/>
<circle cx="320.6" cy="660.0" r="5.40" fill="#402819"/>
<circle cx="332.0" cy="662.0" r="5.40" fill="#402819"/>
<circle cx="335.0" cy="657.0" r="5.40" fill="#000000"/>
<circle cx="342.0" cy="652.0" r="5.40" fill="#000000"/>
<circle cx="346.0" cy="665.0" r="5.40" fill="#000000"/>
<circle cx="355.0" cy="652.0" r="5.40" fill="#000000"/>
<circle cx="354.0" cy="664.0" r="5.40" fill="#402819"/>
<circle cx="344.0" cy="656.0" r="5.40" fill="#e58f5b"/>
<circle cx="341.5" cy="658.0" r="5.40" fill="#e58f5b"/>
<circle cx="357.0" cy="661.0" r="5.40" fill="#e58f5b"/>
<circle cx="355.0" cy="660.0" r="5.40" fill="#e58f5b"/>
<circle cx="360.0" cy="658.0" r="5.40" fill="#e58f5b"/>
<circle cx="368.0" cy="653.0" r="5.40" fill="#e58f5b"/>
<circle cx="367.0" cy="666.0" r="5.40" fill="#e58f5b"/>
<circle cx="368.0" cy="656.0" r="5.40" fill="#402819"/>
<circle cx="377.0" cy="651.0" r="5.40" fill="#ff9f65"/>
<circle cx="378.0" cy="657.0" r="5.40" fill="#ff9f65"/>
<circle cx="382.0" cy="664.0" r="5.40" fill="#ff9f65"/>
<circle cx="385.0" cy="661.0" r="5.40" fill="#ff9f65"/>
<circle cx="396.0" cy="666.6" r="5.40" fill="#ffa368"/>
<circle cx="400.0" cy="656.0" r="5.40" fill="#ffbd79"/>
<circle cx="412.0" cy="649.0" r="5.40" fill="#000000"/>
<circle cx="407.5" cy="653.5" r="5.40" fill="#000000"/>
<circle cx="404.0" cy="659.0" r="5.40" fill="#ff9f65"/>
<circle cx="411.0" cy="660.0" r="5.40" fill="#ffbd79"/>
<circle cx="418.0" cy="655.0" r="5.40" fill="#ffbd79"/>
<circle cx="425.4" cy="661.0" r="5.40" fill="#000000"/>
<circle cx="438.0" cy="652.0" r="5.40" fill="#000000"/>
<circle cx="435.0" cy="660.0" r="5.40" fill="#ffbd79"/>
<circle cx="440.0" cy="662.0" r="5.40" fill="#ffbd79"/>
<circle cx="445.0" cy="660.0" r="5.40" fill="#ffbd79"/>
<circle cx="439.4" cy="669.0" r="5.40" fill="#ff9f65"/>
<circle cx="453.0" cy="654.0" r="5.40" fill="#ff9f65"/>
<circle cx="455.0" cy="657.5" r="5.40" fill="#ff9f65"/>
<circle cx="489.0" cy="654.6" r="5.40" fill="#ff9f65"/>
<circle cx="501.0" cy="656.6" r="5.40" fill="#ff9f65"/>
<circle cx="515.6" cy="649.4" r="5.40" fill="#ff9f65"/>
<circle cx="513.6" cy="665.0" r="5.40" fill="#ff9f65"/>
<circle cx="522.0" cy="656.0" r="5.40" fill="#ff9f65"/>
<circle cx="525.6" cy="657.0" r="5.40" fill="#ff9f65"/>
<circle cx="228.0" cy="703.0" r="5.40" fill="#000000"/>
<circle cx="234.0" cy="704.0" r="5.40" fill="#000000"/>
<circle cx="237.0" cy="695.0" r="5.40" fill="#000000"/>
<circle cx="241.0" cy="700.0" r="5.40" fill="#000000"/>
<circle cx="245.0" cy="696.0" r="5.40" fill="#000000"/>
<circle cx="245.0" cy="704.0" r="5.40" fill="#000000"/>
<circle cx="251.0" cy="706.0" r="5.40" fill="#000000"/>
<circle cx="249.0" cy="699.0" r="5.40" fill="#1a100a"/>
<circle cx="257.0" cy="697.0" r="5.40" fill="#1a100a"/>
<circle cx="258.0" cy="705.0" r="5.40" fill="#1a100a"/>
<circle cx="264.0" cy="695.0" r="5.40" fill="#1a100a"/>
<circle cx="265.0" cy="709.0" r="5.40" fill="#1a100a"/>
<circle cx="268.0" cy="700.0" r="5.40" fill="#1a100a"/>
<circle cx="272.0" cy="692.0" r="5.40" fill="#1a100a"/>
<circle cx="273.0" cy="706.0" r="5.40" fill="#1a100a"/>
<circle cx="275.0" cy="701.0" r="5.40" fill="#1a100a"/>
<circle cx="277.0" cy="702.0" r="5.40" fill="#1a100a"/>
<circle cx="274.0" cy="709.0" r="5.40" fill="#1a100a"/>
<circle cx="253.0" cy="701.0" r="5.40" fill="#100a06"/>
<circle cx="261.0" cy="701.0" r="5.40" fill="#1a100a"/>
<circle cx="270.0" cy="703.0" r="5.40" fill="#1a100a"/>
<circle cx="262.0" cy="706.0" r="5.40" fill="#1a100a"/>
<circle cx="255.0" cy="697.0" r="5.40" fill="#100a06"/>
<circle cx="242.0" cy="702.0" r="5.40" fill="#000000"/>
<circle cx="279.0" cy="698.0" r="5.40" fill="#1a100a"/>
<circle cx="279.0" cy="706.0" r="5.40" fill="#20140d"/>
<circle cx="305.0" cy="698.0" r="5.40" fill="#9f643f"/>
<circle cx="305.0" cy="705.0" r="5.40" fill="#9f643f"/>
<circle cx="285.0" cy="696.0" r="5.40" fill="#69422a"/>
<circle cx="285.0" cy="704.0" r="5.40" fill="#69422a"/>
<circle cx="286.0" cy="711.0" r="5.40" fill="#69422a"/>
<circle cx="291.0" cy="700.0" r="5.40" fill="#69422a"/>
<circle cx="296.0" cy="694.0" r="5.40" fill="#69422a"/>
<circle cx="295.0" cy="706.0" r="5.40" fill="#69422a"/>
<circle cx="300.0" cy="701.0" r="5.40" fill="#69422a"/>
<circle cx="301.0" cy="706.0" r="5.40" fill="#69422a"/>
<circle cx="288.0" cy="700.0" r="5.40" fill="#69422a"/>
<circle cx="293.0" cy="703.0" r="5.40" fill="#69422a"/>
<circle cx="290.0" cy="707.0" r="5.40" fill="#69422a"/>
<circle cx="297.0" cy="699.0" r="5.40" fill="#69422a"/>
<circle cx="291.0" cy="695.0" r="5.40" fill="#69422a"/>
<circle cx="405.6" cy="699.0" r="5.40" fill="#ffc17b"/>
<circle cx="400.4" cy="707.0" r="5.40" fill="#ffc17b"/>
<circle cx="404.0" cy="706.0" r="5.40" fill="#ffc17b"/>
<circle cx="436.6" cy="699.6" r="5.40" fill="#ffc17b"/>
<circle cx="454.4" cy="696.4" r="5.40" fill="#ffc17b"/>
<circle cx="463.0" cy="703.0" r="5.40" fill="#ffc17b"/>
<circle cx="472.4" cy="701.6" r="5.40" fill="#ffc17b"/>
<circle cx="480.0" cy="706.0" r="5.40" fill="#ffc17b"/>
<circle cx="483.6" cy="701.0" r="5.40" fill="#ffc17b"/>
<circle cx="260.0" cy="745.0" r="5.40" fill="#000000"/>
<circle cx="261.0" cy="751.0" r="5.40" fill="#000000"/>
<circle cx="265.0" cy="740.0" r="5.40" fill="#000000"/>
<circle cx="269.0" cy="737.0" r="5.40" fill="#000000"/>
<circle cx="270.0" cy="742.0" r="5.40" fill="#000000"/>
<circle cx="264.0" cy="746.0" r="5.40" fill="#000000"/>
<circle cx="267.0" cy="749.0" r="5.40" fill="#000000"/>
<circle cx="266.0" cy="743.0" r="5.40" fill="#000000"/>
<circle cx="272.0" cy="739.0" r="5.40" fill="#000000"/>
<circle cx="272.0" cy="747.5" r="5.40" fill="#9f643f"/>
<circle cx="279.5" cy="744.5" r="5.40" fill="#000000"/>
<circle cx="281.0" cy="751.5" r="5.40" fill="#000000"/>
<circle cx="277.0" cy="755.0" r="5.40" fill="#000000"/>
<circle cx="266.0" cy="741.5" r="5.40" fill="#000000"/>
<circle cx="283.0" cy="742.0" r="5.40" fill="#563622"/>
<circle cx="286.0" cy="736.0" r="5.40" fill="#563622"/>
<circle cx="288.0" cy="747.0" r="5.40" fill="#563622"/>
<circle cx="289.0" cy="753.0" r="5.40" fill="#563622"/>
<circle cx="293.0" cy="741.0" r="5.40" fill="#563622"/>
<circle cx="295.0" cy="748.0" r="5.40" fill="#563622"/>
<circle cx="285.0" cy="745.0" r="5.40" fill="#563622"/>
<circle cx="291.0" cy="746.0" r="5.40" fill="#563622"/>
<circle cx="290.0" cy="739.0" r="5.40" fill="#563622"/>
<circle cx="297.0" cy="744.0" r="5.40" fill="#603c26"/>
<circle cx="284.0" cy="750.0" r="5.40" fill="#563622"/>
<circle cx="293.0" cy="752.0" r="5.40" fill="#563622"/>
<circle cx="302.0" cy="745.0" r="5.40" fill="#805033"/>
<circle cx="304.0" cy="749.0" r="5.40" fill="#805033"/>
<circle cx="310.0" cy="743.0" r="5.40" fill="#9f643f"/>
<circle cx="315.0" cy="750.0" r="5.40" fill="#9f643f"/>
<circle cx="321.0" cy="741.0" r="5.40" fill="#9f643f"/>
<circle cx="323.0" cy="746.0" r="5.40" fill="#9f643f"/>
<circle cx="332.0" cy="743.0" r="5.40" fill="#9f643f"/>
<circle cx="336.0" cy="746.0" r="5.40" fill="#9f643f"/>
<circle cx="344.4" cy="753.0" r="5.40" fill="#9f643f"/>
<circle cx="349.6" cy="740.0" r="5.40" fill="#ffc77f"/>
<circle cx="353.0" cy="742.4" r="5.40" fill="#9f643f"/>
<circle cx="363.6" cy="749.0" r="5.40" fill="#ffc77f"/>
<circle cx="367.0" cy="741.4" r="5.40" fill="#ffc77f"/>
<circle cx="378.4" cy="744.4" r="5.40" fill="#ffc77f"/>
<circle cx="385.0" cy="740.0" r="5.40" fill="#ffc77f"/>
<circle cx="391.0" cy="751.4" r="5.40" fill="#ffc77f"/>
<circle cx="396.0" cy="743.0" r="5.40" fill="#ffc77f"/>
<circle cx="410.4" cy="743.0" r="5.40" fill="#ffc77f"/>
<circle cx="249.4" cy="794.4" r="5.40" fill="#000000"/>
<circle cx="259.0" cy="787.0" r="5.40" fill="#000000"/>
<circle cx="264.0" cy="783.0" r="5.40" fill="#000000"/>
<circle cx="263.0" cy="791.0" r="5.40" fill="#000000"/>
<circle cx="268.0" cy="794.0" r="5.40" fill="#000000"/>
<circle cx="274.0" cy="784.0" r="5.40" fill="#000000"/>
<circle cx="273.0" cy="796.0" r="5.40" fill="#af6e46"/>
<circle cx="279.0" cy="798.0" r="5.40" fill="#000000"/>
<circle cx="268.0" cy="788.0" r="5.40" fill="#100a06"/>
<circle cx="266.0" cy="787.0" r="5.40" fill="#000000"/>
<circle cx="270.0" cy="790.0" r="5.40" fill="#000000"/>
<circle cx="321.0" cy="779.0" r="5.40" fill="#000000"/>
<circle cx="326.0" cy="783.0" r="5.40" fill="#000000"/>
<circle cx="313.0" cy="793.0" r="5.40" fill="#000000"/>
<circle cx="279.0" cy="785.0" r="5.40" fill="#bf784c"/>
<circle cx="280.0" cy="791.0" r="5.40" fill="#bf784c"/>
<circle cx="284.0" cy="775.0" r="5.40" fill="#bf784c"/>
<circle cx="284.0" cy="781.0" r="5.40" fill="#bf784c"/>
<circle cx="285.0" cy="795.0" r="5.40" fill="#bf784c"/>
<circle cx="290.0" cy="780.0" r="5.40" fill="#bf784c"/>
<circle cx="302.0" cy="786.0" r="5.40" fill="#ffa96c"/>
<circle cx="286.0" cy="787.0" r="5.40" fill="#c67c4f"/>
<circle cx="288.0" cy="789.0" r="5.40" fill="#d28354"/>
<circle cx="293.0" cy="785.0" r="5.40" fill="#e58f5b"/>
<circle cx="294.0" cy="792.0" r="5.40" fill="#e58f5b"/>
<circle cx="289.0" cy="793.0" r="5.40" fill="#e58f5b"/>
<circle cx="296.0" cy="788.0" r="5.40" fill="#e58f5b"/>
<circle cx="308.0" cy="786.0" r="5.40" fill="#ffc77f"/>
<circle cx="313.0" cy="785.0" r="5.40" fill="#ffc77f"/>
<circle cx="311.5" cy="788.5" r="5.40" fill="#ffc77f"/>
<circle cx="325.0" cy="785.0" r="5.40" fill="#ffc77f"/>
<circle cx="324.0" cy="794.0" r="5.40" fill="#ffc77f"/>
<circle cx="328.0" cy="793.0" r="5.40" fill="#ffc77f"/>
<circle cx="334.0" cy="784.6" r="5.40" fill="#ffc77f"/>
<circle cx="250.6" cy="836.0" r="5.40" fill="#ffaf70"/>
<circle cx="262.0" cy="833.0" r="5.40" fill="#ffaf70"/>
<circle cx="301.0" cy="818.0" r="5.40" fill="#ffaf70"/>
<circle cx="296.0" cy="825.0" r="5.40" fill="#ffaf70"/>
<circle cx="329.0" cy="834.0" r="5.40" fill="#ffaf70"/>
<circle cx="297.0" cy="836.0" r="5.40" fill="#ffaf70"/>
<circle cx="255.0" cy="829.6" r="5.40" fill="#ffc17b"/>
<circle cx="265.0" cy="829.0" r="5.40" fill="#ffc17b"/>
<circle cx="268.0" cy="834.0" r="5.40" fill="#ffc17b"/>
<circle cx="308.0" cy="824.0" r="5.40" fill="#ffc17b"/>
<circle cx="310.0" cy="831.0" r="5.40" fill="#ffc17b"/>
<circle cx="303.0" cy="832.0" r="5.40" fill="#ffc17b"/>
<circle cx="306.0" cy="839.0" r="5.40" fill="#ffc17b"/>
<circle cx="315.0" cy="835.0" r="5.40" fill="#ffc17b"/>
<circle cx="324.6" cy="826.0" r="5.40" fill="#ffc17b"/>
<circle cx="333.0" cy="837.0" r="5.40" fill="#ffc17b"/>
<circle cx="300.0" cy="829.0" r="5.40" fill="#ffb976"/>
<circle cx="305.0" cy="828.0" r="5.40" fill="#ffc17b"/>
<circle cx="309.0" cy="836.0" r="5.40" fill="#ffc17b"/>
<circle cx="299.0" cy="833.0" r="5.40" fill="#ffb372"/>
<circle cx="270.0" cy="820.4" r="5.40" fill="#794c30"/>
<circle cx="278.0" cy="816.0" r="5.40" fill="#603c26"/>
<circle cx="276.0" cy="829.0" r="5.40" fill="#603c26"/>
<circle cx="277.0" cy="835.0" r="5.40" fill="#603c26"/>
<circle cx="278.0" cy="840.0" r="5.40" fill="#603c26"/>
<circle cx="281.0" cy="827.0" r="5.40" fill="#603c26"/>
<circle cx="282.0" cy="834.0" r="5.40" fill="#603c26"/>
<circle cx="289.0" cy="839.0" r="5.40" fill="#603c26"/>
<circle cx="280.0" cy="831.0" r="5.40" fill="#603c26"/>
<circle cx="279.0" cy="837.0" r="5.40" fill="#603c26"/>
<circle cx="273.5" cy="831.0" r="5.40" fill="#603c26"/>
<circle cx="274.0" cy="836.0" r="5.40" fill="#603c26"/>
<circle cx="283.0" cy="830.0" r="5.40" fill="#603c26"/>
<circle cx="277.0" cy="826.0" r="5.40" fill="#603c26"/>
<circle cx="287.4" cy="826.0" r="5.40" fill="#1a100a"/>
<circle cx="288.0" cy="834.0" r="5.40" fill="#1a100a"/>
<circle cx="277.0" cy="873.0" r="5.40" fill="#cf8152"/>
<circle cx="281.0" cy="881.0" r="5.40" fill="#cf8152"/>
<circle cx="280.0" cy="868.0" r="5.40" fill="#cf8152"/>
<circle cx="289.0" cy="880.0" r="5.40" fill="#cf8152"/>
<circle cx="285.0" cy="864.5" r="5.40" fill="#865435"/>
<circle cx="286.0" cy="872.0" r="5.40" fill="#865435"/>
<circle cx="288.0" cy="878.0" r="5.40" fill="#865435"/>
<circle cx="289.0" cy="868.0" r="5.40" fill="#865435"/>
<circle cx="289.0" cy="875.0" r="5.40" fill="#865435"/>
<circle cx="286.0" cy="880.0" r="5.40" fill="#8f5a39"/>
<circle cx="300.0" cy="866.0" r="5.40" fill="#ffbd79"/>
<circle cx="306.0" cy="872.0" r="5.40" fill="#ffbd79"/>
<circle cx="294.0" cy="868.0" r="5.40" fill="#503220"/>
<circle cx="296.0" cy="875.0" r="5.40" fill="#503220"/>
<circle cx="299.0" cy="872.0" r="5.40" fill="#503220"/>
<circle cx="292.5" cy="872.0" r="5.40" fill="#503220"/>
<circle cx="295.0" cy="878.0" r="5.40" fill="#503220"/>
<circle cx="315.0" cy="873.0" r="5.40" fill="#ffaf70"/>
<circle cx="321.0" cy="871.6" r="5.40" fill="#ffaf70"/>
<circle cx="326.0" cy="869.0" r="5.40" fill="#ffaf70"/>
<circle cx="329.0" cy="873.0" r="5.40" fill="#ffaf70"/>
<circle cx="333.0" cy="874.0" r="5.40" fill="#ffaf70"/>
<circle cx="337.0" cy="868.0" r="5.40" fill="#ffaf70"/>
<circle cx="339.0" cy="869.0" r="5.40" fill="#ffaf70"/>
<circle cx="318.0" cy="873.0" r="5.40" fill="#ffaf70"/>
<circle cx="324.0" cy="874.0" r="5.40" fill="#ffaf70"/>
<circle cx="331.0" cy="871.0" r="5.40" fill="#ffaf70"/>
<circle cx="336.0" cy="872.5" r="5.40" fill="#ffaf70"/>
<circle cx="362.6" cy="877.4" r="5.40" fill="#ffa96c"/>
<circle cx="292.0" cy="902.0" r="5.40" fill="#ffaf70"/>
<circle cx="296.0" cy="906.0" r="5.40" fill="#ffaf70"/>
<circle cx="315.0" cy="912.0" r="5.40" fill="#ffaf70"/>
<circle cx="322.0" cy="917.0" r="5.40" fill="#ffaf70"/>
<circle cx="312.0" cy="920.0" r="5.40" fill="#ffaf70"/>
<circle cx="273.0" cy="922.0" r="5.40" fill="#ffb775"/>
<circle cx="285.0" cy="926.0" r="5.40" fill="#af6e46"/>
<circle cx="290.0" cy="924.0" r="5.40" fill="#402819"/>
<circle cx="277.0" cy="906.0" r="5.40" fill="#ffa368"/>
<circle cx="277.0" cy="915.0" r="5.40" fill="#ffa368"/>
<circle cx="278.0" cy="922.0" r="5.40" fill="#ffa368"/>
<circle cx="282.0" cy="910.0" r="5.40" fill="#ffa368"/>
<circle cx="291.0" cy="909.0" r="5.40" fill="#ffa368"/>
<circle cx="293.0" cy="916.0" r="5.40" fill="#ffa368"/>
<circle cx="298.0" cy="919.0" r="5.40" fill="#ffa368"/>
<circle cx="300.0" cy="913.0" r="5.40" fill="#ffa368"/>
<circle cx="290.0" cy="920.0" r="5.40" fill="#ffa368"/>
<circle cx="285.0" cy="916.0" r="5.40" fill="#ffa368"/>
<circle cx="284.0" cy="920.0" r="5.40" fill="#ffa368"/>
<circle cx="287.0" cy="912.0" r="5.40" fill="#ffa368"/>
<circle cx="308.0" cy="914.6" r="5.40" fill="#000000"/>
<circle cx="305.3" cy="913.2" r="5.40" fill="#ffa368"/>
<circle cx="267.0" cy="951.0" r="5.40" fill="#ffc77f"/>
<circle cx="273.0" cy="948.0" r="5.40" fill="#ffc77f"/>
<circle cx="272.0" cy="956.0" r="5.40" fill="#ffc77f"/>
<circle cx="271.0" cy="964.0" r="5.40" fill="#f99b63"/>
<circle cx="277.0" cy="969.0" r="5.40" fill="#f99b63"/>
<circle cx="278.0" cy="967.0" r="5.40" fill="#9f643f"/>
<circle cx="275.4" cy="961.4" r="5.40" fill="#000000"/>
<circle cx="291.0" cy="948.0" r="5.40" fill="#000000"/>
<circle cx="301.0" cy="950.0" r="5.40" fill="#000000"/>
<circle cx="300.0" cy="955.0" r="5.40" fill="#000000"/>
<circle cx="308.6" cy="956.6" r="5.40" fill="#000000"/>
<circle cx="295.0" cy="960.0" r="5.40" fill="#805033"/>
<circle cx="286.0" cy="946.0" r="5.40" fill="#c67c4f"/>
<circle cx="284.0" cy="953.0" r="5.40" fill="#c67c4f"/>
<circle cx="288.0" cy="957.0" r="5.40" fill="#c67c4f"/>
<circle cx="289.0" cy="964.0" r="5.40" fill="#c67c4f"/>
<circle cx="290.0" cy="968.0" r="5.40" fill="#c67c4f"/>
<circle cx="292.0" cy="953.0" r="5.40" fill="#c67c4f"/>
<circle cx="287.0" cy="950.0" r="5.40" fill="#c67c4f"/>
<circle cx="286.0" cy="960.0" r="5.40" fill="#c67c4f"/>
<circle cx="291.0" cy="958.0" r="5.40" fill="#bf784c"/>
<circle cx="283.0" cy="958.0" r="5.40" fill="#c67c4f"/>
</g>
<line x1="286.0" y1="574.2" x2="286.0" y2="999.5" stroke="#404040" stroke-opacity=".8" stroke-width="1.9"/>
<text transform="translate(307.0 644.6) rotate(-90)" font-size="15.9">Baseline</text>
<path class="ax" d="M83.3 574.2V999.5H556.5" style="stroke-width:1.5"/>
<line class="ax" x1="83.3" y1="999.5" x2="83.3" y2="994.5"/>
<text x="83.3" y="1023.7" font-size="16.35" text-anchor="middle">-0.3</text>
<line class="ax" x1="150.9" y1="999.5" x2="150.9" y2="994.5"/>
<text x="150.9" y="1023.7" font-size="16.35" text-anchor="middle">-0.2</text>
<line class="ax" x1="218.5" y1="999.5" x2="218.5" y2="994.5"/>
<text x="218.5" y="1023.7" font-size="16.35" text-anchor="middle">-0.1</text>
<line class="ax" x1="286.1" y1="999.5" x2="286.1" y2="994.5"/>
<text x="286.1" y="1023.7" font-size="16.35" text-anchor="middle">0</text>
<line class="ax" x1="353.7" y1="999.5" x2="353.7" y2="994.5"/>
<text x="353.7" y="1023.7" font-size="16.35" text-anchor="middle">0.1</text>
<line class="ax" x1="421.3" y1="999.5" x2="421.3" y2="994.5"/>
<text x="421.3" y="1023.7" font-size="16.35" text-anchor="middle">0.2</text>
<line class="ax" x1="488.9" y1="999.5" x2="488.9" y2="994.5"/>
<text x="488.9" y="1023.7" font-size="16.35" text-anchor="middle">0.3</text>
<line class="ax" x1="556.5" y1="999.5" x2="556.5" y2="994.5"/>
<text x="556.5" y="1023.7" font-size="16.35" text-anchor="middle">0.4</text>
<line class="ax" x1="83.3" y1="617.1" x2="88.3" y2="617.1"/>
<text x="75.5" y="624.1" font-size="16.35" text-anchor="end">Feature8</text>
<line class="ax" x1="83.3" y1="659.7" x2="88.3" y2="659.7"/>
<text x="75.5" y="666.7" font-size="16.35" text-anchor="end">Feature9</text>
<line class="ax" x1="83.3" y1="702.2" x2="88.3" y2="702.2"/>
<text x="75.5" y="709.2" font-size="16.35" text-anchor="end">Feature7</text>
<line class="ax" x1="83.3" y1="744.7" x2="88.3" y2="744.7"/>
<text x="75.5" y="751.7" font-size="16.35" text-anchor="end">Feature3</text>
<line class="ax" x1="83.3" y1="787.2" x2="88.3" y2="787.2"/>
<text x="75.5" y="794.2" font-size="16.35" text-anchor="end">Feature1</text>
<line class="ax" x1="83.3" y1="829.8" x2="88.3" y2="829.8"/>
<text x="75.5" y="836.8" font-size="16.35" text-anchor="end">Feature6</text>
<line class="ax" x1="83.3" y1="872.3" x2="88.3" y2="872.3"/>
<text x="75.5" y="879.3" font-size="16.35" text-anchor="end">Feature4</text>
<line class="ax" x1="83.3" y1="914.8" x2="88.3" y2="914.8"/>
<text x="75.5" y="921.8" font-size="16.35" text-anchor="end">Feature5</text>
<line class="ax" x1="83.3" y1="957.4" x2="88.3" y2="957.4"/>
<text x="75.5" y="964.4" font-size="16.35" text-anchor="end">Feature2</text>
<text x="319.5" y="1047.6" font-size="18.2" text-anchor="middle">SHAP value</text>
<text class="s" x="367.7" y="1070.2" font-size="24.6" text-anchor="middle">(b)</text>
<text x="319.7" y="566.2" font-size="18.3" text-anchor="middle" style="fill:#000">SHAP Colony Map</text>
<rect x="581.3" y="574.2" width="27.7" height="425.3" fill="url(#cu)" stroke="#262626" stroke-width="1"/>
<text x="615.2" y="581.6" font-size="16.35">High</text>
<text x="615.2" y="1006.5" font-size="16.35">Low</text>
<text transform="translate(672.4 787.0) rotate(-90)" font-size="16.35" text-anchor="middle">Feature value</text>
</svg></body></html>
